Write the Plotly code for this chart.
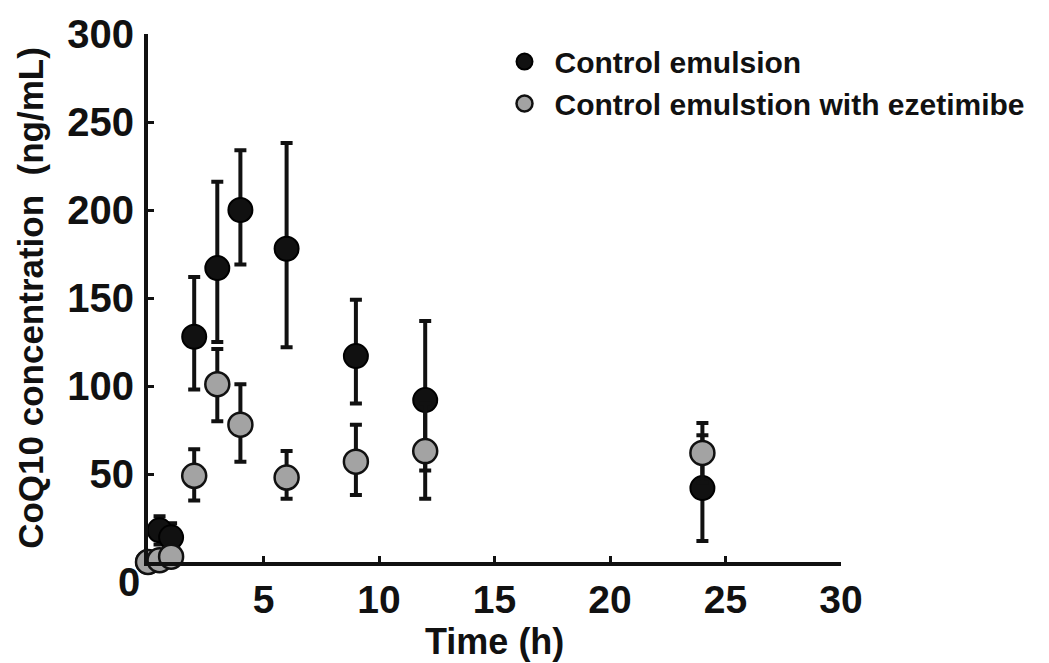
import plotly.graph_objects as go

# ---- data ----
time_ctrl = [0, 0.5, 1, 2, 3, 4, 6, 9, 12, 24]
conc_ctrl = [0, 18, 14, 128, 167, 200, 178, 117, 92, 42]
err_ctrl_plus = [0, 8, 8, 34, 49, 34, 60, 32, 45, 30]
err_ctrl_minus = [0, 8, 8, 30, 42, 31, 56, 27, 40, 30]

time_eze = [0, 0.5, 1, 2, 3, 4, 6, 9, 12, 24]
conc_eze = [0, 1, 3, 49, 101, 78, 48, 57, 63, 62]
err_eze_plus = [0, 0, 0, 15, 20, 23, 15, 21, 27, 17]
err_eze_minus = [0, 0, 0, 14, 21, 21, 12, 19, 27, 17]

x_ticks = [5, 10, 15, 20, 25, 30]
y_ticks = [0, 50, 100, 150, 200, 250, 300]
y_ticklabels = ["", "50", "100", "150", "200", "250", "300"]

names = ["Control emulsion", "Control emulstion with ezetimibe"]
x_title = "Time (h)"
y_title = "CoQ10 concentration  (ng/mL)"

FONT = "Liberation Sans, Arial, Helvetica, sans-serif"
INK = "#111111"

fig = go.Figure()
fig.add_trace(go.Scatter(
    x=time_ctrl, y=conc_ctrl, mode="markers", name=names[0],
    marker=dict(size=24, color=INK, line=dict(color="#000000", width=2)),
    error_y=dict(type="data", array=err_ctrl_plus, arrayminus=err_ctrl_minus,
                 symmetric=False, color=INK, thickness=4, width=6),
    cliponaxis=False,
))
fig.add_trace(go.Scatter(
    x=time_eze, y=conc_eze, mode="markers", name=names[1],
    marker=dict(size=24, color="#a3a3a3", line=dict(color=INK, width=2.5)),
    error_y=dict(type="data", array=err_eze_plus, arrayminus=err_eze_minus,
                 symmetric=False, color=INK, thickness=4, width=6),
    cliponaxis=False,
))

# "0" label of the y axis sits below the axis corner
fig.add_annotation(x=0, y=0, xref="paper", yref="y", text="0", showarrow=False,
                   xanchor="right", yanchor="middle", xshift=-6, yshift=-20,
                   font=dict(family=FONT, size=40, color=INK, weight="bold"))
# x-axis title
fig.add_annotation(x=0.5, y=0, xref="paper", yref="paper", text=x_title, showarrow=False,
                   xanchor="center", yanchor="top", yshift=-57,
                   font=dict(family=FONT, size=36, color=INK, weight="bold"))

fig.update_layout(
    width=1049, height=663,
    margin=dict(l=148, r=208, t=34, b=101, autoexpand=False),
    paper_bgcolor="white", plot_bgcolor="white",
    font=dict(family=FONT, size=40, color=INK, weight="bold"),
    showlegend=True,
    legend=dict(x=0.50, y=0.997, xanchor="left", yanchor="top",
                font=dict(family=FONT, size=30, color=INK, weight="bold"),
                bgcolor="rgba(0,0,0,0)", itemsizing="trace", itemwidth=50,
                tracegroupgap=0),
    xaxis=dict(range=[0, 30], tickvals=x_ticks, ticks="inside", ticklen=6, tickwidth=3,
               tickcolor=INK, showline=True, linecolor=INK, linewidth=4,
               showgrid=False, zeroline=False, ticklabelstandoff=0,
               tickfont=dict(size=39)),
    yaxis=dict(range=[0, 300], tickvals=y_ticks, ticktext=y_ticklabels, ticks="inside",
               ticklen=6, tickwidth=3, tickcolor=INK, showline=True,
               linecolor=INK, linewidth=4, showgrid=False, zeroline=False,
               ticklabelstandoff=2, tickfont=dict(size=40),
               title=dict(text=y_title, standoff=14,
                          font=dict(family=FONT, size=35, color=INK, weight="bold"))),
)

fig.write_html("out.html", config={"displayModeBar": False},
               post_script="document.body.style.margin='0';")
